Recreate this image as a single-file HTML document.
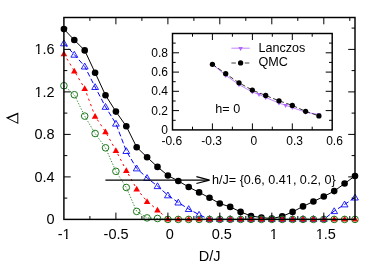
<!DOCTYPE html>
<html><head><meta charset="utf-8"><title>plot</title>
<style>html,body{margin:0;padding:0;background:#fff;}body{width:382px;height:267px;overflow:hidden;position:relative;font-family:"Liberation Sans",sans-serif;}</style></head>
<body>
<svg width="382" height="267" viewBox="0 0 382 267" style="position:absolute;left:0;top:0;will-change:transform">
<rect width="382" height="267" fill="#fff"/>
<polyline points="63.9,29.1 74.3,40.0 84.7,50.4 95.1,72.7 105.5,95.2 115.9,111.6 126.3,126.3 136.7,147.2 147.1,157.3 157.5,166.9 167.9,175.5 178.3,181.0 188.7,187.0 199.1,192.4 209.5,197.8 219.8,203.5 230.2,206.9 240.6,211.9 251.0,216.0 261.4,217.5 271.8,218.6 282.2,216.3 292.6,211.9 303.0,206.4 313.4,201.5 323.8,196.5 334.2,191.1 344.6,183.5 355.0,176.0" fill="none" stroke="#000" stroke-width="1"/>
<polyline points="63.9,43.2 74.3,54.6 84.7,66.4 95.1,87.0 105.5,106.8 115.9,123.6 126.3,151.0 136.7,168.4 147.1,177.9 157.5,186.1 167.9,195.3 178.3,202.5 188.7,209.0 199.1,214.7 209.5,219.4 219.8,219.4 230.2,219.4 240.6,219.4 251.0,219.4 261.4,219.4 271.8,219.4 282.2,219.4 292.6,219.4 303.0,219.4 313.4,219.4 323.8,219.4 334.2,211.1 344.6,204.4 355.0,197.5" fill="none" stroke="#0000ff" stroke-width="1" stroke-dasharray="5 2.5"/>
<polyline points="63.9,53.8 74.3,71.0 84.7,88.5 95.1,116.3 105.5,131.8 115.9,150.4 126.3,170.5 136.7,188.9 147.1,201.5 157.5,209.9 167.9,219.4 178.3,219.4 188.7,219.4 199.1,219.4 209.5,219.4 219.8,219.4 230.2,219.4 240.6,219.4 251.0,219.4 261.4,219.4 271.8,219.4 282.2,219.4 292.6,219.4 303.0,219.4 313.4,219.4 323.8,219.4 334.2,219.4 344.6,219.4 355.0,219.4" fill="none" stroke="#ff0000" stroke-width="1" stroke-dasharray="2.3 3.4"/>
<polyline points="63.9,85.7 74.3,94.7 84.7,116.1 95.1,133.5 105.5,147.8 115.9,171.3 126.3,187.5 136.7,211.4 147.1,217.9 157.5,218.5 167.9,219.4 178.3,219.4 188.7,219.4 199.1,219.4 209.5,219.4 219.8,219.4 230.2,219.4 240.6,219.4 251.0,219.4 261.4,219.4 271.8,219.4 282.2,219.4 292.6,219.4 303.0,219.4 313.4,219.4 323.8,219.4 334.2,219.4 344.6,219.4 355.0,219.4" fill="none" stroke="#1e7d1e" stroke-width="0.9" stroke-dasharray="1.3 1.6"/>
<circle cx="63.9" cy="29.1" r="3.3" fill="#000"/>
<circle cx="74.3" cy="40.0" r="3.3" fill="#000"/>
<circle cx="84.7" cy="50.4" r="3.3" fill="#000"/>
<circle cx="95.1" cy="72.7" r="3.3" fill="#000"/>
<circle cx="105.5" cy="95.2" r="3.3" fill="#000"/>
<circle cx="115.9" cy="111.6" r="3.3" fill="#000"/>
<circle cx="126.3" cy="126.3" r="3.3" fill="#000"/>
<circle cx="136.7" cy="147.2" r="3.3" fill="#000"/>
<circle cx="147.1" cy="157.3" r="3.3" fill="#000"/>
<circle cx="157.5" cy="166.9" r="3.3" fill="#000"/>
<circle cx="167.9" cy="175.5" r="3.3" fill="#000"/>
<circle cx="178.3" cy="181.0" r="3.3" fill="#000"/>
<circle cx="188.7" cy="187.0" r="3.3" fill="#000"/>
<circle cx="199.1" cy="192.4" r="3.3" fill="#000"/>
<circle cx="209.5" cy="197.8" r="3.3" fill="#000"/>
<circle cx="219.8" cy="203.5" r="3.3" fill="#000"/>
<circle cx="230.2" cy="206.9" r="3.3" fill="#000"/>
<circle cx="240.6" cy="211.9" r="3.3" fill="#000"/>
<circle cx="251.0" cy="216.0" r="3.3" fill="#000"/>
<circle cx="261.4" cy="217.5" r="3.3" fill="#000"/>
<circle cx="271.8" cy="218.6" r="3.3" fill="#000"/>
<circle cx="282.2" cy="216.3" r="3.3" fill="#000"/>
<circle cx="292.6" cy="211.9" r="3.3" fill="#000"/>
<circle cx="303.0" cy="206.4" r="3.3" fill="#000"/>
<circle cx="313.4" cy="201.5" r="3.3" fill="#000"/>
<circle cx="323.8" cy="196.5" r="3.3" fill="#000"/>
<circle cx="334.2" cy="191.1" r="3.3" fill="#000"/>
<circle cx="344.6" cy="183.5" r="3.3" fill="#000"/>
<circle cx="355.0" cy="176.0" r="3.3" fill="#000"/>
<polygon points="63.9,39.9 60.5,45.8 67.3,45.8" fill="none" stroke="#0000ff" stroke-width="0.85"/>
<polygon points="74.3,51.3 70.9,57.2 77.7,57.2" fill="none" stroke="#0000ff" stroke-width="0.85"/>
<polygon points="84.7,63.1 81.3,69.0 88.1,69.0" fill="none" stroke="#0000ff" stroke-width="0.85"/>
<polygon points="95.1,83.7 91.7,89.5 98.5,89.5" fill="none" stroke="#0000ff" stroke-width="0.85"/>
<polygon points="105.5,103.5 102.1,109.3 108.9,109.3" fill="none" stroke="#0000ff" stroke-width="0.85"/>
<polygon points="115.9,120.3 112.5,126.1 119.3,126.1" fill="none" stroke="#0000ff" stroke-width="0.85"/>
<polygon points="126.3,147.7 122.9,153.5 129.7,153.5" fill="none" stroke="#0000ff" stroke-width="0.85"/>
<polygon points="136.7,165.1 133.3,170.9 140.1,170.9" fill="none" stroke="#0000ff" stroke-width="0.85"/>
<polygon points="147.1,174.6 143.7,180.4 150.4,180.4" fill="none" stroke="#0000ff" stroke-width="0.85"/>
<polygon points="157.5,182.8 154.1,188.6 160.8,188.6" fill="none" stroke="#0000ff" stroke-width="0.85"/>
<polygon points="167.9,192.0 164.5,197.8 171.2,197.8" fill="none" stroke="#0000ff" stroke-width="0.85"/>
<polygon points="178.3,199.2 174.9,205.0 181.6,205.0" fill="none" stroke="#0000ff" stroke-width="0.85"/>
<polygon points="188.7,205.7 185.3,211.5 192.0,211.5" fill="none" stroke="#0000ff" stroke-width="0.85"/>
<polygon points="199.1,211.4 195.7,217.2 202.4,217.2" fill="none" stroke="#0000ff" stroke-width="0.85"/>
<polygon points="209.5,215.6 206.1,221.4 212.8,221.4" fill="none" stroke="#0000ff" stroke-width="0.85"/>
<polygon points="219.8,215.6 216.5,221.4 223.2,221.4" fill="none" stroke="#0000ff" stroke-width="0.85"/>
<polygon points="230.2,215.6 226.9,221.4 233.6,221.4" fill="none" stroke="#0000ff" stroke-width="0.85"/>
<polygon points="240.6,215.6 237.3,221.4 244.0,221.4" fill="none" stroke="#0000ff" stroke-width="0.85"/>
<polygon points="251.0,215.6 247.7,221.4 254.4,221.4" fill="none" stroke="#0000ff" stroke-width="0.85"/>
<polygon points="261.4,215.6 258.1,221.4 264.8,221.4" fill="none" stroke="#0000ff" stroke-width="0.85"/>
<polygon points="271.8,215.6 268.5,221.4 275.2,221.4" fill="none" stroke="#0000ff" stroke-width="0.85"/>
<polygon points="282.2,215.6 278.8,221.4 285.6,221.4" fill="none" stroke="#0000ff" stroke-width="0.85"/>
<polygon points="292.6,215.6 289.2,221.4 296.0,221.4" fill="none" stroke="#0000ff" stroke-width="0.85"/>
<polygon points="303.0,215.6 299.6,221.4 306.4,221.4" fill="none" stroke="#0000ff" stroke-width="0.85"/>
<polygon points="313.4,215.6 310.0,221.4 316.8,221.4" fill="none" stroke="#0000ff" stroke-width="0.85"/>
<polygon points="323.8,215.6 320.4,221.4 327.2,221.4" fill="none" stroke="#0000ff" stroke-width="0.85"/>
<polygon points="334.2,207.8 330.8,213.6 337.6,213.6" fill="none" stroke="#0000ff" stroke-width="0.85"/>
<polygon points="344.6,201.1 341.2,206.9 348.0,206.9" fill="none" stroke="#0000ff" stroke-width="0.85"/>
<polygon points="355.0,194.2 351.6,200.0 358.4,200.0" fill="none" stroke="#0000ff" stroke-width="0.85"/>
<polygon points="63.9,50.6 60.6,56.3 67.2,56.3" fill="#ff0000"/>
<polygon points="74.3,67.8 71.0,73.5 77.6,73.5" fill="#ff0000"/>
<polygon points="84.7,85.3 81.4,91.0 88.0,91.0" fill="#ff0000"/>
<polygon points="95.1,113.1 91.8,118.8 98.4,118.8" fill="#ff0000"/>
<polygon points="105.5,128.6 102.2,134.3 108.8,134.3" fill="#ff0000"/>
<polygon points="115.9,147.2 112.6,152.9 119.2,152.9" fill="#ff0000"/>
<polygon points="126.3,167.3 123.0,173.0 129.6,173.0" fill="#ff0000"/>
<polygon points="136.7,185.7 133.4,191.4 140.0,191.4" fill="#ff0000"/>
<polygon points="147.1,198.3 143.8,204.0 150.4,204.0" fill="#ff0000"/>
<polygon points="157.5,206.7 154.2,212.4 160.8,212.4" fill="#ff0000"/>
<polygon points="167.9,215.7 164.6,221.4 171.2,221.4" fill="#ff0000"/>
<polygon points="178.3,215.7 175.0,221.4 181.6,221.4" fill="#ff0000"/>
<polygon points="188.7,215.7 185.4,221.4 191.9,221.4" fill="#ff0000"/>
<polygon points="199.1,215.7 195.8,221.4 202.3,221.4" fill="#ff0000"/>
<polygon points="209.5,215.7 206.2,221.4 212.7,221.4" fill="#ff0000"/>
<polygon points="219.8,215.7 216.6,221.4 223.1,221.4" fill="#ff0000"/>
<polygon points="230.2,215.7 227.0,221.4 233.5,221.4" fill="#ff0000"/>
<polygon points="240.6,215.7 237.3,221.4 243.9,221.4" fill="#ff0000"/>
<polygon points="251.0,215.7 247.7,221.4 254.3,221.4" fill="#ff0000"/>
<polygon points="261.4,215.7 258.1,221.4 264.7,221.4" fill="#ff0000"/>
<polygon points="271.8,215.7 268.5,221.4 275.1,221.4" fill="#ff0000"/>
<polygon points="282.2,215.7 278.9,221.4 285.5,221.4" fill="#ff0000"/>
<polygon points="292.6,215.7 289.3,221.4 295.9,221.4" fill="#ff0000"/>
<polygon points="303.0,215.7 299.7,221.4 306.3,221.4" fill="#ff0000"/>
<polygon points="313.4,215.7 310.1,221.4 316.7,221.4" fill="#ff0000"/>
<polygon points="323.8,215.7 320.5,221.4 327.1,221.4" fill="#ff0000"/>
<polygon points="334.2,215.7 330.9,221.4 337.5,221.4" fill="#ff0000"/>
<polygon points="344.6,215.7 341.3,221.4 347.9,221.4" fill="#ff0000"/>
<polygon points="355.0,215.7 351.7,221.4 358.3,221.4" fill="#ff0000"/>
<circle cx="63.9" cy="85.7" r="3.3" fill="none" stroke="#1a761a" stroke-width="1.0"/>
<circle cx="74.3" cy="94.7" r="3.3" fill="none" stroke="#1a761a" stroke-width="1.0"/>
<circle cx="84.7" cy="116.1" r="3.3" fill="none" stroke="#1a761a" stroke-width="1.0"/>
<circle cx="95.1" cy="133.5" r="3.3" fill="none" stroke="#1a761a" stroke-width="1.0"/>
<circle cx="105.5" cy="147.8" r="3.3" fill="none" stroke="#1a761a" stroke-width="1.0"/>
<circle cx="115.9" cy="171.3" r="3.3" fill="none" stroke="#1a761a" stroke-width="1.0"/>
<circle cx="126.3" cy="187.5" r="3.3" fill="none" stroke="#1a761a" stroke-width="1.0"/>
<circle cx="136.7" cy="211.4" r="3.3" fill="none" stroke="#1a761a" stroke-width="1.0"/>
<circle cx="147.1" cy="217.9" r="3.3" fill="none" stroke="#1a761a" stroke-width="1.0"/>
<circle cx="157.5" cy="218.5" r="3.3" fill="none" stroke="#1a761a" stroke-width="1.0"/>
<circle cx="167.9" cy="219.4" r="3.3" fill="none" stroke="#1a761a" stroke-width="1.0"/>
<circle cx="178.3" cy="219.4" r="3.3" fill="none" stroke="#1a761a" stroke-width="1.0"/>
<circle cx="188.7" cy="219.4" r="3.3" fill="none" stroke="#1a761a" stroke-width="1.0"/>
<circle cx="199.1" cy="219.4" r="3.3" fill="none" stroke="#1a761a" stroke-width="1.0"/>
<circle cx="209.5" cy="219.4" r="3.3" fill="none" stroke="#1a761a" stroke-width="1.0"/>
<circle cx="219.8" cy="219.4" r="3.3" fill="none" stroke="#1a761a" stroke-width="1.0"/>
<circle cx="230.2" cy="219.4" r="3.3" fill="none" stroke="#1a761a" stroke-width="1.0"/>
<circle cx="240.6" cy="219.4" r="3.3" fill="none" stroke="#1a761a" stroke-width="1.0"/>
<circle cx="251.0" cy="219.4" r="3.3" fill="none" stroke="#1a761a" stroke-width="1.0"/>
<circle cx="261.4" cy="219.4" r="3.3" fill="none" stroke="#1a761a" stroke-width="1.0"/>
<circle cx="271.8" cy="219.4" r="3.3" fill="none" stroke="#1a761a" stroke-width="1.0"/>
<circle cx="282.2" cy="219.4" r="3.3" fill="none" stroke="#1a761a" stroke-width="1.0"/>
<circle cx="292.6" cy="219.4" r="3.3" fill="none" stroke="#1a761a" stroke-width="1.0"/>
<circle cx="303.0" cy="219.4" r="3.3" fill="none" stroke="#1a761a" stroke-width="1.0"/>
<circle cx="313.4" cy="219.4" r="3.3" fill="none" stroke="#1a761a" stroke-width="1.0"/>
<circle cx="323.8" cy="219.4" r="3.3" fill="none" stroke="#1a761a" stroke-width="1.0"/>
<circle cx="334.2" cy="219.4" r="3.3" fill="none" stroke="#1a761a" stroke-width="1.0"/>
<circle cx="344.6" cy="219.4" r="3.3" fill="none" stroke="#1a761a" stroke-width="1.0"/>
<circle cx="355.0" cy="219.4" r="3.3" fill="none" stroke="#1a761a" stroke-width="1.0"/>
<line x1="105.4" y1="180.1" x2="208.5" y2="180.1" stroke="#000" stroke-width="1.3"/>
<polyline points="196.4,176.7 209.6,180.1 196.4,183.5" fill="none" stroke="#000" stroke-width="1.25" stroke-linejoin="miter"/>
<rect x="63.9" y="17.5" width="291.1" height="201.9" fill="none" stroke="#000" stroke-width="1.45"/>
<path d="M89.9,219.4v-3.4M89.9,17.5v3.4M115.9,219.4v-6.8M115.9,17.5v6.8M141.9,219.4v-3.4M141.9,17.5v3.4M167.9,219.4v-6.8M167.9,17.5v6.8M193.9,219.4v-3.4M193.9,17.5v3.4M219.8,219.4v-6.8M219.8,17.5v6.8M245.8,219.4v-3.4M245.8,17.5v3.4M271.8,219.4v-6.8M271.8,17.5v6.8M297.8,219.4v-3.4M297.8,17.5v3.4M323.8,219.4v-6.8M323.8,17.5v6.8M349.8,219.4v-3.4M349.8,17.5v3.4M63.9,198.1h3.4M355.0,198.1h-3.4M63.9,176.9h6.8M355.0,176.9h-6.8M63.9,155.6h3.4M355.0,155.6h-3.4M63.9,134.4h6.8M355.0,134.4h-6.8M63.9,113.1h3.4M355.0,113.1h-3.4M63.9,91.9h6.8M355.0,91.9h-6.8M63.9,70.6h3.4M355.0,70.6h-3.4M63.9,49.4h6.8M355.0,49.4h-6.8M63.9,28.1h3.4M355.0,28.1h-3.4" stroke="#000" stroke-width="1" fill="none"/>
<rect x="172.5" y="33.5" width="159.7" height="96.4" fill="#fff" stroke="none"/>
<polyline points="212.4,64.2 225.7,75.3 239.0,84.6 252.3,92.0 259.0,94.4 265.7,97.5 279.0,103.0 285.6,105.3 292.3,107.5 305.6,112.2 318.9,114.6" fill="none" stroke="#b266ff" stroke-width="0.8"/>
<polygon points="212.4,66.8 210.2,62.9 214.7,62.9" fill="#b266ff"/>
<polygon points="225.7,77.9 223.5,74.0 228.0,74.0" fill="#b266ff"/>
<polygon points="239.0,87.2 236.8,83.3 241.3,83.3" fill="#b266ff"/>
<polygon points="252.3,94.6 250.1,90.7 254.6,90.7" fill="#b266ff"/>
<polygon points="259.0,97.0 256.8,93.1 261.3,93.1" fill="#b266ff"/>
<polygon points="265.7,100.1 263.4,96.2 267.9,96.2" fill="#b266ff"/>
<polygon points="279.0,105.6 276.7,101.7 281.2,101.7" fill="#b266ff"/>
<polygon points="285.6,107.9 283.4,104.0 287.9,104.0" fill="#b266ff"/>
<polygon points="292.3,110.1 290.0,106.2 294.5,106.2" fill="#b266ff"/>
<polygon points="305.6,114.8 303.3,110.9 307.8,110.9" fill="#b266ff"/>
<polygon points="318.9,117.2 316.6,113.3 321.1,113.3" fill="#b266ff"/>
<polyline points="212.4,64.3 225.7,73.7 239.0,82.8 252.3,90.1 265.7,95.5 279.0,100.8 292.3,105.4 305.6,111.3 318.9,115.9" fill="none" stroke="#000" stroke-width="0.8" stroke-dasharray="4.5 2.5"/>
<circle cx="212.4" cy="64.3" r="2.65" fill="#000"/>
<circle cx="225.7" cy="73.7" r="2.65" fill="#000"/>
<circle cx="239.0" cy="82.8" r="2.65" fill="#000"/>
<circle cx="252.3" cy="90.1" r="2.65" fill="#000"/>
<circle cx="265.7" cy="95.5" r="2.65" fill="#000"/>
<circle cx="279.0" cy="100.8" r="2.65" fill="#000"/>
<circle cx="292.3" cy="105.4" r="2.65" fill="#000"/>
<circle cx="305.6" cy="111.3" r="2.65" fill="#000"/>
<circle cx="318.9" cy="115.9" r="2.65" fill="#000"/>
<rect x="172.5" y="33.5" width="159.7" height="96.4" fill="none" stroke="#000" stroke-width="1.45"/>
<path d="M192.5,129.9v-3.2M192.5,33.5v3.2M212.4,129.9v-6.5M212.4,33.5v6.5M232.4,129.9v-3.2M232.4,33.5v3.2M252.4,129.9v-6.5M252.4,33.5v6.5M272.3,129.9v-3.2M272.3,33.5v3.2M292.3,129.9v-6.5M292.3,33.5v6.5M312.2,129.9v-3.2M312.2,33.5v3.2M172.5,120.3h3.2M332.2,120.3h-3.2M172.5,110.6h6.5M332.2,110.6h-6.5M172.5,101.0h3.2M332.2,101.0h-3.2M172.5,91.3h6.5M332.2,91.3h-6.5M172.5,81.7h3.2M332.2,81.7h-3.2M172.5,72.1h6.5M332.2,72.1h-6.5M172.5,62.4h3.2M332.2,62.4h-3.2M172.5,52.8h6.5M332.2,52.8h-6.5M172.5,43.1h3.2M332.2,43.1h-3.2" stroke="#000" stroke-width="1" fill="none"/>
<line x1="231.4" y1="48.2" x2="249.8" y2="48.2" stroke="#b266ff" stroke-width="0.8"/>
<polygon points="240.6,51.0 238.3,47.1 242.9,47.1" fill="#b266ff"/>
<line x1="231.4" y1="63" x2="249.8" y2="63" stroke="#000" stroke-width="0.75" stroke-dasharray="4.5 8.9"/>
<circle cx="240.6" cy="62.9" r="2.65" fill="#000"/>
<path d="M5.8,117.7 L18.3,112.5 L18.3,124 Z M8.6,118.15 L17.3,122.55 L17.3,114.55 Z" fill="#000" fill-rule="evenodd"/>
<g>
<text x="54.6" y="224.0" font-size="14.5" text-anchor="end" font-family="Liberation Sans, sans-serif" style="font-kerning:none" fill="#000">0</text>
<text x="54.6" y="181.5" font-size="14.5" text-anchor="end" font-family="Liberation Sans, sans-serif" style="font-kerning:none" fill="#000">0.4</text>
<text x="54.6" y="139.0" font-size="14.5" text-anchor="end" font-family="Liberation Sans, sans-serif" style="font-kerning:none" fill="#000">0.8</text>
<text x="54.6" y="96.5" font-size="14.5" text-anchor="end" font-family="Liberation Sans, sans-serif" style="font-kerning:none" fill="#000">1.2</text>
<rect x="34.73" y="94.72" width="3.21" height="2.48" fill="#fff"/>
<rect x="39.52" y="94.72" width="3.11" height="2.48" fill="#fff"/>
<text x="54.6" y="54.0" font-size="14.5" text-anchor="end" font-family="Liberation Sans, sans-serif" style="font-kerning:none" fill="#000">1.6</text>
<rect x="34.73" y="52.22" width="3.21" height="2.48" fill="#fff"/>
<rect x="39.52" y="52.22" width="3.11" height="2.48" fill="#fff"/>
<text x="64.1" y="239.4" font-size="14.5" text-anchor="middle" font-family="Liberation Sans, sans-serif" style="font-kerning:none" fill="#000">-1</text>
<rect x="62.77" y="237.62" width="3.21" height="2.48" fill="#fff"/>
<rect x="67.56" y="237.62" width="3.11" height="2.48" fill="#fff"/>
<text x="116.1" y="239.4" font-size="14.5" text-anchor="middle" font-family="Liberation Sans, sans-serif" style="font-kerning:none" fill="#000">-0.5</text>
<text x="169.9" y="239.4" font-size="14.5" text-anchor="middle" font-family="Liberation Sans, sans-serif" style="font-kerning:none" fill="#000">0</text>
<text x="221.8" y="239.4" font-size="14.5" text-anchor="middle" font-family="Liberation Sans, sans-serif" style="font-kerning:none" fill="#000">0.5</text>
<text x="273.8" y="239.4" font-size="14.5" text-anchor="middle" font-family="Liberation Sans, sans-serif" style="font-kerning:none" fill="#000">1</text>
<rect x="270.05" y="237.62" width="3.21" height="2.48" fill="#fff"/>
<rect x="274.85" y="237.62" width="3.11" height="2.48" fill="#fff"/>
<text x="325.8" y="239.4" font-size="14.5" text-anchor="middle" font-family="Liberation Sans, sans-serif" style="font-kerning:none" fill="#000">1.5</text>
<rect x="316.00" y="237.62" width="3.21" height="2.48" fill="#fff"/>
<rect x="320.80" y="237.62" width="3.11" height="2.48" fill="#fff"/>
<text x="209.6" y="261.2" font-size="14.5" text-anchor="middle" font-family="Liberation Sans, sans-serif" style="font-kerning:none" fill="#000">D/J</text>
<text x="168.0" y="134.0" font-size="12" text-anchor="end" font-family="Liberation Sans, sans-serif" style="font-kerning:none" fill="#000">0</text>
<text x="168.0" y="114.7" font-size="12" text-anchor="end" font-family="Liberation Sans, sans-serif" style="font-kerning:none" fill="#000">0.2</text>
<text x="168.0" y="95.4" font-size="12" text-anchor="end" font-family="Liberation Sans, sans-serif" style="font-kerning:none" fill="#000">0.4</text>
<text x="168.0" y="76.2" font-size="12" text-anchor="end" font-family="Liberation Sans, sans-serif" style="font-kerning:none" fill="#000">0.6</text>
<text x="168.0" y="56.9" font-size="12" text-anchor="end" font-family="Liberation Sans, sans-serif" style="font-kerning:none" fill="#000">0.8</text>
<text x="171.8" y="145.0" font-size="12" text-anchor="middle" font-family="Liberation Sans, sans-serif" style="font-kerning:none" fill="#000">-0.6</text>
<text x="211.7" y="145.0" font-size="12" text-anchor="middle" font-family="Liberation Sans, sans-serif" style="font-kerning:none" fill="#000">-0.3</text>
<text x="253.8" y="145.0" font-size="12" text-anchor="middle" font-family="Liberation Sans, sans-serif" style="font-kerning:none" fill="#000">0</text>
<text x="294.6" y="145.0" font-size="12" text-anchor="middle" font-family="Liberation Sans, sans-serif" style="font-kerning:none" fill="#000">0.3</text>
<text x="334.5" y="145.0" font-size="12" text-anchor="middle" font-family="Liberation Sans, sans-serif" style="font-kerning:none" fill="#000">0.6</text>
<text x="258.4" y="52.4" font-size="12.6" text-anchor="start" font-family="Liberation Sans, sans-serif" style="font-kerning:none" fill="#000">Lanczos</text>
<text x="258.4" y="66.3" font-size="12.6" text-anchor="start" font-family="Liberation Sans, sans-serif" style="font-kerning:none" fill="#000">QMC</text>
<text x="215.3" y="112.7" font-size="12.6" text-anchor="start" font-family="Liberation Sans, sans-serif" style="font-kerning:none" fill="#000">h= 0</text>
<text x="212.0" y="183.8" font-size="12.6" text-anchor="start" font-family="Liberation Sans, sans-serif" style="font-kerning:none" fill="#000">h/J= {0.6, 0.41, 0.2, 0}</text>
<rect x="286.15" y="182.16" width="2.77" height="2.34" fill="#fff"/>
<rect x="290.34" y="182.16" width="2.70" height="2.34" fill="#fff"/>
</g>
</svg>
</body></html>
